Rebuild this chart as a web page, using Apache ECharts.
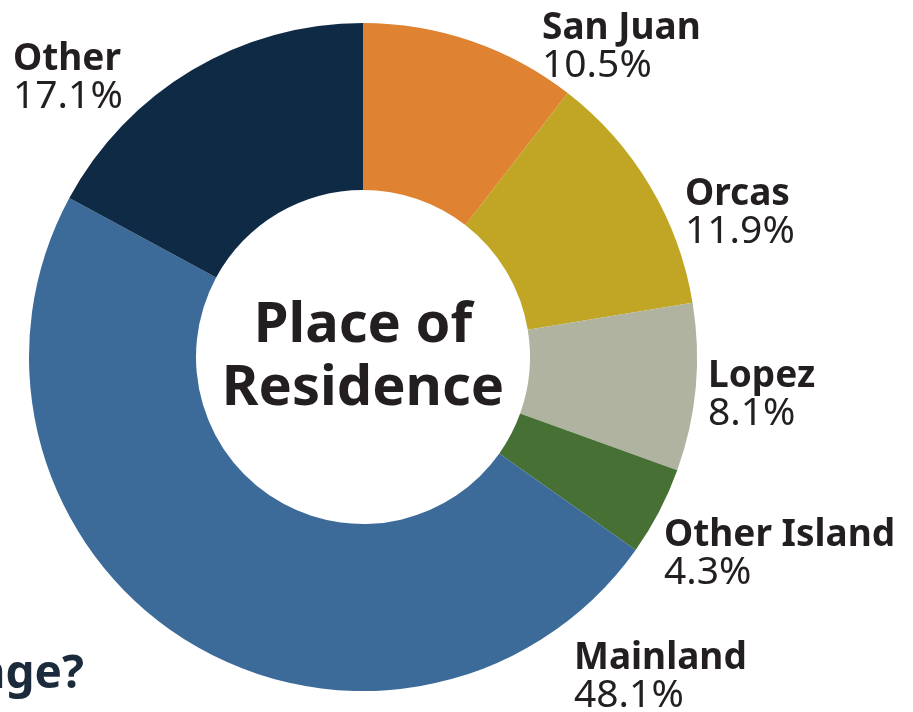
<!DOCTYPE html>
<html>
<head>
<meta charset="utf-8">
<script src="https://cdn.jsdelivr.net/npm/echarts@6/dist/echarts.min.js"></script>
<style>
  html, body { margin: 0; padding: 0; background: #fff; }
  #main { width: 913px; height: 712px; }
</style>
</head>
<body>
<div id="main"></div>
<script>
// data
var categories = ['San Juan', 'Orcas', 'Lopez', 'Other Island', 'Mainland', 'Other'];
var shares = [10.5, 11.9, 8.1, 4.3, 48.1, 17.1];
var sliceColors = ['#df8232', '#c0a624', '#b0b3a0', '#477035', '#3c6b99', '#0e2a44'];

// where each label sits (left, top) -- hand placed like the original
var labelSpots = [[542, 9], [685, 175], [708, 357], [664, 516], [574, 639], [13, 40]];

var myChart = echarts.init(document.getElementById('main'));

var pieData = [];
for (var i = 0; i < categories.length; i++) {
    pieData.push({
        name: categories[i],
        value: shares[i],
        itemStyle: { color: sliceColors[i] }
    });
}

var option = {
    animation: false,
    backgroundColor: '#ffffff',
    graphic: [
        {
            type: 'text',
            x: 363,
            y: 358,
            style: {
                text: 'Place of\nResidence',
                align: 'center',
                verticalAlign: 'middle',
                font: 'bold 56px "Noto Sans"',
                lineHeight: 63,
                fill: '#231f20'
            }
        },
        {
            type: 'text',
            x: 84,
            y: 675,
            style: {
                text: 'Change?',
                align: 'right',
                verticalAlign: 'middle',
                font: 'bold 46px "Noto Sans"',
                fill: '#1c2b3b'
            }
        }
    ],
    series: [{
        type: 'pie',
        center: [363, 357],
        radius: [167, 334],
        startAngle: 90,
        clockwise: true,
        avoidLabelOverlap: false,
        emphasis: { disabled: true },
        itemStyle: { borderWidth: 0 },
        label: {
            show: true,
            position: 'outside',
            formatter: '{n|{b}}\n{p|{c}%}',
            rich: {
                n: {
                    fontFamily: 'Noto Sans',
                    fontWeight: 'bold',
                    fontSize: 37,
                    lineHeight: 38,
                    color: '#231f20'
                },
                p: {
                    fontFamily: 'Noto Sans',
                    fontWeight: 'normal',
                    fontSize: 39,
                    lineHeight: 38,
                    color: '#231f20'
                }
            }
        },
        labelLine: { show: false },
        labelLayout: function (params) {
            var spot = labelSpots[params.dataIndex];
            return {
                x: spot[0],
                y: spot[1],
                align: 'left',
                verticalAlign: 'top'
            };
        },
        data: pieData
    }]
};

myChart.setOption(option);
</script>
</body>
</html>
